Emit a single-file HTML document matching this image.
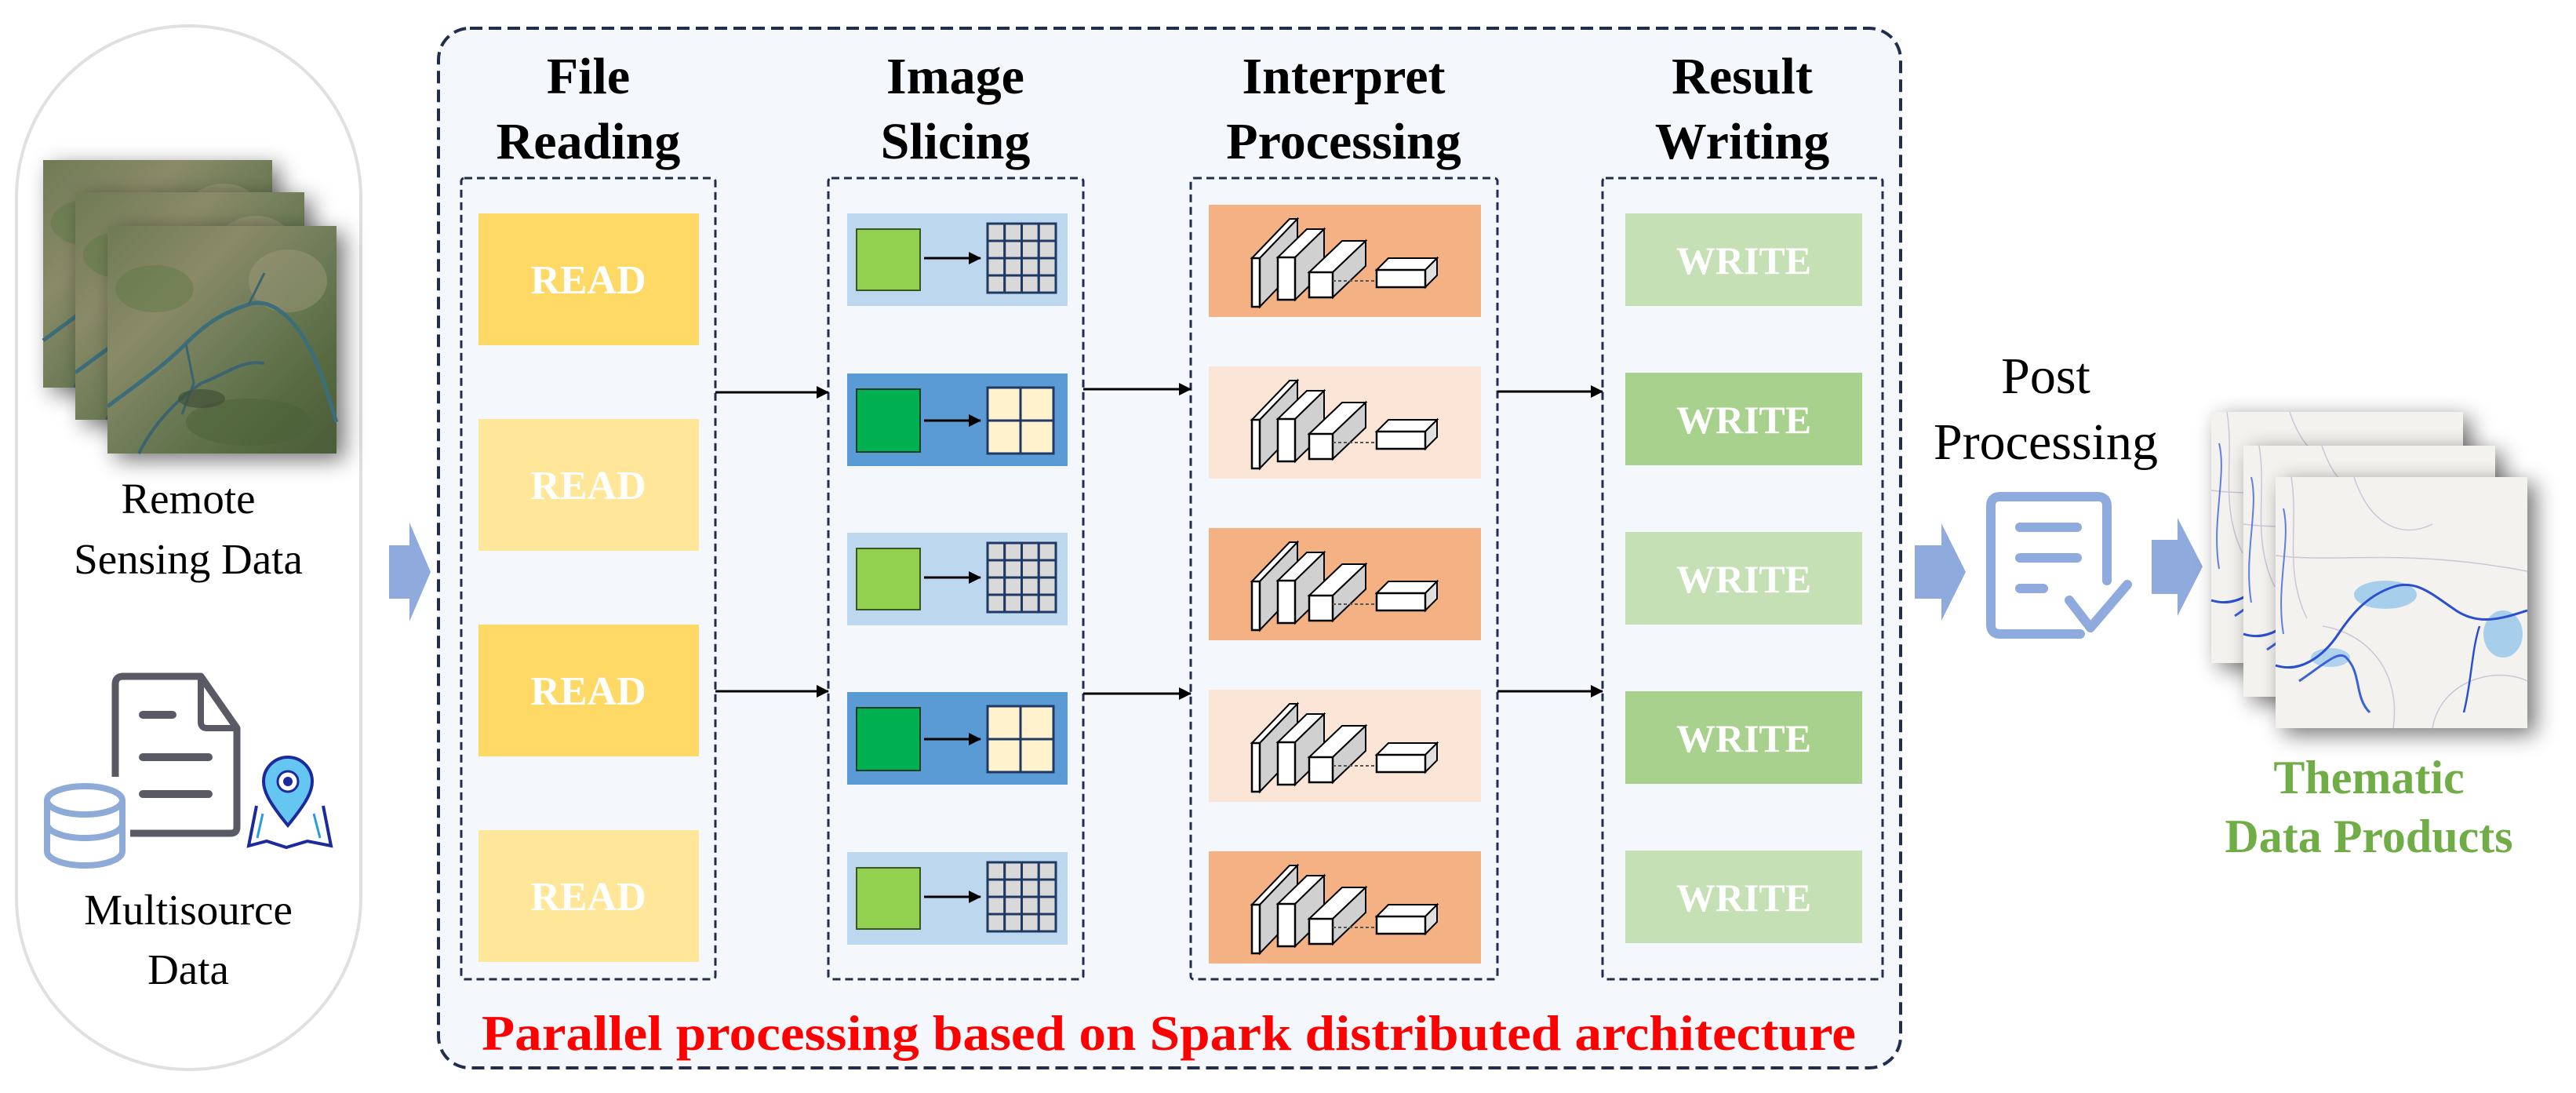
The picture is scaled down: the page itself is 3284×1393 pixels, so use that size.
<!DOCTYPE html>
<html><head><meta charset="utf-8"><style>
html,body{margin:0;padding:0;background:#fff;}
svg{display:block;}
svg text{font-family:"Liberation Serif","Times New Roman","DejaVu Serif",serif !important;}
</style></head><body>
<svg width="3284" height="1393" viewBox="0 0 3284 1393" xmlns="http://www.w3.org/2000/svg" font-family="'Liberation Serif', 'Times New Roman', serif">
<defs>
<filter id="sh" x="-30%" y="-30%" width="160%" height="160%"><feGaussianBlur in="SourceAlpha" stdDeviation="14"/><feOffset dx="10" dy="8"/><feComponentTransfer><feFuncA type="linear" slope="0.55"/></feComponentTransfer><feMerge><feMergeNode/><feMergeNode in="SourceGraphic"/></feMerge></filter>
<linearGradient id="sat" x1="0" y1="0" x2="1" y2="1">
<stop offset="0" stop-color="#6f7a55"/><stop offset="0.3" stop-color="#8a8a68"/><stop offset="0.55" stop-color="#6b7a55"/><stop offset="0.8" stop-color="#55683f"/><stop offset="1" stop-color="#4a5d38"/></linearGradient>
<g id="satimg">
<rect width="292" height="290" fill="url(#sat)"/>
<ellipse cx="230" cy="70" rx="50" ry="40" fill="#a29b7c" opacity="0.45"/>
<ellipse cx="60" cy="80" rx="50" ry="30" fill="#5f7a45" opacity="0.5"/>
<ellipse cx="180" cy="250" rx="80" ry="30" fill="#4c6138" opacity="0.5"/>
<path d="M0 230 C40 200 70 180 100 150 C130 120 150 110 180 100 C210 90 240 120 260 160 C275 190 285 230 292 250" fill="none" stroke="#3b6e78" stroke-width="5"/>
<path d="M40 290 C60 250 90 220 120 200 C150 190 170 170 200 175" fill="none" stroke="#3d6470" stroke-width="4"/>
<path d="M100 150 L110 200 L95 240 M180 100 L200 60" fill="none" stroke="#3d6470" stroke-width="3"/>
<ellipse cx="120" cy="220" rx="30" ry="12" fill="#3d4a33" opacity="0.6"/>
</g>
<g id="mapimg">
<rect width="321" height="320" fill="#f4f2ee"/>
<path d="M20 0 C30 60 10 120 40 180 M100 0 C120 60 160 80 200 60 M0 100 C80 110 160 90 321 120 M200 320 C210 260 280 240 321 260 M150 320 C160 250 120 200 60 190" fill="none" stroke="#cbc6d8" stroke-width="1.5"/>
<ellipse cx="140" cy="150" rx="40" ry="18" fill="#4aa3e8" opacity="0.45"/>
<ellipse cx="290" cy="200" rx="25" ry="30" fill="#4aa3e8" opacity="0.45"/>
<ellipse cx="70" cy="230" rx="25" ry="12" fill="#4aa3e8" opacity="0.4"/>
<path d="M0 240 C30 250 60 230 80 200 C100 170 120 150 150 140 C180 130 200 150 230 170 C260 190 290 180 321 170" fill="none" stroke="#2a4fd0" stroke-width="3"/>
<path d="M30 260 C60 240 80 220 90 230 C110 250 100 280 120 300" fill="none" stroke="#3a62d8" stroke-width="3"/>
<path d="M260 190 C250 220 250 260 240 300" fill="none" stroke="#2a4fd0" stroke-width="2.5"/>
<path d="M10 40 C20 80 0 140 10 200" fill="none" stroke="#5c7fe0" stroke-width="2"/>
</g>
<g id="cnn">
<polygon points="55,68 103,18 113,18 65,68" fill="#fff" stroke="#000" stroke-width="2"/>
<polygon points="65,68 113,18 113,80 65,130" fill="#d0d0d0" stroke="#000" stroke-width="2"/>
<rect x="55" y="68" width="10" height="62" fill="#fff" stroke="#000" stroke-width="2.5"/>
<polygon points="88,67 125,31 147,31 110,67" fill="#fff" stroke="#000" stroke-width="2"/>
<polygon points="110,67 147,31 147,85 110,121" fill="#d0d0d0" stroke="#000" stroke-width="2"/>
<rect x="88" y="67" width="22" height="54" fill="#fff" stroke="#000" stroke-width="2.5"/>
<polygon points="128,86 170,46 200,46 158,86" fill="#fff" stroke="#000" stroke-width="2"/>
<polygon points="158,86 200,46 200,78 158,118" fill="#d0d0d0" stroke="#000" stroke-width="2"/>
<rect x="128" y="86" width="30" height="32" fill="#fff" stroke="#000" stroke-width="2.5"/>
<line x1="158" y1="97" x2="214" y2="97" stroke="#555" stroke-width="2" stroke-dasharray="4 3"/>
<polygon points="214,83 229,68 291,68 276,83" fill="#fff" stroke="#000" stroke-width="2"/>
<polygon points="276,83 291,68 291,90 276,105" fill="#e0e0e0" stroke="#000" stroke-width="2"/>
<rect x="214" y="83" width="62" height="22" fill="#fff" stroke="#000" stroke-width="2.5"/>
</g>
<g id="grid16">
<g fill="#d9d9d9" stroke="#1f3864" stroke-width="3">
<rect x="179" y="13" width="21.75" height="22"/><rect x="200.75" y="13" width="21.75" height="22"/><rect x="222.5" y="13" width="21.75" height="22"/><rect x="244.25" y="13" width="21.75" height="22"/>
<rect x="179" y="35" width="21.75" height="22"/><rect x="200.75" y="35" width="21.75" height="22"/><rect x="222.5" y="35" width="21.75" height="22"/><rect x="244.25" y="35" width="21.75" height="22"/>
<rect x="179" y="57" width="21.75" height="22"/><rect x="200.75" y="57" width="21.75" height="22"/><rect x="222.5" y="57" width="21.75" height="22"/><rect x="244.25" y="57" width="21.75" height="22"/>
<rect x="179" y="79" width="21.75" height="22"/><rect x="200.75" y="79" width="21.75" height="22"/><rect x="222.5" y="79" width="21.75" height="22"/><rect x="244.25" y="79" width="21.75" height="22"/>
</g></g>
<g id="grid4">
<g fill="#fff2cc" stroke="#1f3864" stroke-width="3">
<rect x="179" y="18" width="42" height="42"/><rect x="221" y="18" width="42" height="42"/>
<rect x="179" y="60" width="42" height="42"/><rect x="221" y="60" width="42" height="42"/>
</g></g>
<marker id="ah2" markerWidth="16" markerHeight="16" refX="15" refY="8" orient="auto" markerUnits="userSpaceOnUse"><path d="M0,0 L16,8 L0,16 z" fill="#000"/></marker>
</defs>

<!-- left pill -->
<rect x="21" y="33" width="439" height="1330" rx="219" ry="219" fill="#fff" stroke="#e0e0e0" stroke-width="4"/>
<g filter="url(#sh)"><use href="#satimg" x="55" y="204"/></g>
<g filter="url(#sh)"><use href="#satimg" x="96" y="245"/></g>
<g filter="url(#sh)"><use href="#satimg" x="137" y="288"/></g>
<text x="240" y="654" font-size="55" text-anchor="middle" fill="#000">Remote</text>
<text x="240" y="731" font-size="55" text-anchor="middle" fill="#000">Sensing Data</text>
<!-- multisource icon -->
<path d="M147 990 V872 Q147 862 157 862 H256 L302 928 V1054 Q302 1062 294 1062 H166" fill="none" stroke="#5a5a64" stroke-width="9" stroke-linejoin="round"/>
<path d="M256 862 V920 Q256 928 264 928 H302" fill="none" stroke="#5a5a64" stroke-width="8"/>
<line x1="182" y1="911" x2="220" y2="911" stroke="#5a5a64" stroke-width="10" stroke-linecap="round"/>
<line x1="182" y1="965" x2="266" y2="965" stroke="#5a5a64" stroke-width="10" stroke-linecap="round"/>
<line x1="182" y1="1012" x2="266" y2="1012" stroke="#5a5a64" stroke-width="10" stroke-linecap="round"/>
<g fill="#fff" stroke="#8eaad6" stroke-width="8">
<path d="M60 1020 V1085 A48 18 0 0 0 156 1085 V1020"/>
<ellipse cx="108" cy="1020" rx="48" ry="18"/>
<path d="M60 1050 A48 18 0 0 0 156 1050"/>
</g>
<g>
<path d="M327 1027 L317 1078 L340 1072 L365 1080 L392 1072 L422 1078 L412 1027" fill="none" stroke="#1c2a9c" stroke-width="4"/>
<path d="M335 1037 L328 1068 M400 1037 L408 1068" stroke="#2a9be0" stroke-width="3"/>
<path d="M367 1052 C345 1025 336 1010 336 996 A31 31 0 0 1 398 996 C398 1010 389 1025 367 1052 z" fill="#66c6f2" stroke="#1c2a9c" stroke-width="4"/>
<circle cx="367" cy="996" r="13" fill="#fff" stroke="#1c2a9c" stroke-width="3"/>
<circle cx="367" cy="996" r="6" fill="#1c2a9c"/>
</g>
<text x="240" y="1178" font-size="55" text-anchor="middle" fill="#000">Multisource</text>
<text x="240" y="1254" font-size="55" text-anchor="middle" fill="#000">Data</text>

<polygon points="496,695 522,695 522,666 549,729 522,792 522,763 496,763" fill="#8faadc"/>

<!-- main box -->
<rect x="559" y="36" width="1864" height="1325" rx="40" ry="40" fill="#f4f7fb" stroke="#1f2d4e" stroke-width="4" stroke-dasharray="16 8"/>

<g font-weight="bold" font-size="66" text-anchor="middle" fill="#000">
<text x="750" y="119">File</text><text x="750" y="202">Reading</text>
<text x="1218" y="119">Image</text><text x="1218" y="202">Slicing</text>
<text x="1713" y="119">Interpret</text><text x="1713" y="202">Processing</text>
<text x="2221" y="119">Result</text><text x="2221" y="202">Writing</text>
</g>

<g fill="none" stroke="#1f2d4e" stroke-width="3" stroke-dasharray="10 6">
<rect x="588" y="227" width="324" height="1021" rx="4"/>
<rect x="1056" y="227" width="325" height="1021" rx="4"/>
<rect x="1518" y="227" width="391" height="1021" rx="4"/>
<rect x="2043" y="227" width="357" height="1021" rx="4"/>
</g>

<rect x="610" y="272" width="281" height="168" fill="#ffd966"/>
<rect x="610" y="534" width="281" height="168" fill="#ffe699"/>
<rect x="610" y="796" width="281" height="168" fill="#ffd966"/>
<rect x="610" y="1058" width="281" height="168" fill="#ffe699"/>
<g font-weight="bold" font-size="52" text-anchor="middle" fill="#fff">
<text x="750" y="374">READ</text><text x="750" y="636">READ</text><text x="750" y="898">READ</text><text x="750" y="1160">READ</text>
</g>

<g transform="translate(1080,272)"><rect width="281" height="118" fill="#bdd7ee"/><rect x="12" y="20" width="81" height="78" fill="#92d050" stroke="#385723" stroke-width="2"/><line x1="98" y1="57" x2="170" y2="57" stroke="#000" stroke-width="3" marker-end="url(#ah2)"/><use href="#grid16"/></g>
<g transform="translate(1080,476)"><rect width="281" height="118" fill="#5b9bd5"/><rect x="12" y="20" width="81" height="80" fill="#00b050" stroke="#1f3d23" stroke-width="2"/><line x1="98" y1="60" x2="170" y2="60" stroke="#000" stroke-width="3" marker-end="url(#ah2)"/><use href="#grid4"/></g>
<g transform="translate(1080,679)"><rect width="281" height="118" fill="#bdd7ee"/><rect x="12" y="20" width="81" height="78" fill="#92d050" stroke="#385723" stroke-width="2"/><line x1="98" y1="57" x2="170" y2="57" stroke="#000" stroke-width="3" marker-end="url(#ah2)"/><use href="#grid16"/></g>
<g transform="translate(1080,882)"><rect width="281" height="118" fill="#5b9bd5"/><rect x="12" y="20" width="81" height="80" fill="#00b050" stroke="#1f3d23" stroke-width="2"/><line x1="98" y1="60" x2="170" y2="60" stroke="#000" stroke-width="3" marker-end="url(#ah2)"/><use href="#grid4"/></g>
<g transform="translate(1080,1086)"><rect width="281" height="118" fill="#bdd7ee"/><rect x="12" y="20" width="81" height="78" fill="#92d050" stroke="#385723" stroke-width="2"/><line x1="98" y1="57" x2="170" y2="57" stroke="#000" stroke-width="3" marker-end="url(#ah2)"/><use href="#grid16"/></g>

<g transform="translate(1541,261)"><rect width="347" height="143" fill="#f4b183"/><use href="#cnn"/></g>
<g transform="translate(1541,467)"><rect width="347" height="143" fill="#fbe5d6"/><use href="#cnn"/></g>
<g transform="translate(1541,673)"><rect width="347" height="143" fill="#f4b183"/><use href="#cnn"/></g>
<g transform="translate(1541,879)"><rect width="347" height="143" fill="#fbe5d6"/><use href="#cnn"/></g>
<g transform="translate(1541,1085)"><rect width="347" height="143" fill="#f4b183"/><use href="#cnn"/></g>

<rect x="2072" y="272" width="302" height="118" fill="#c5e0b4"/>
<rect x="2072" y="475" width="302" height="118" fill="#a9d18e"/>
<rect x="2072" y="678" width="302" height="118" fill="#c5e0b4"/>
<rect x="2072" y="881" width="302" height="118" fill="#a9d18e"/>
<rect x="2072" y="1084" width="302" height="118" fill="#c5e0b4"/>
<g font-weight="bold" font-size="50" text-anchor="middle" fill="#fff">
<text x="2223" y="349">WRITE</text><text x="2223" y="552">WRITE</text><text x="2223" y="755">WRITE</text><text x="2223" y="958">WRITE</text><text x="2223" y="1161">WRITE</text>
</g>

<g stroke="#000" stroke-width="3">
<line x1="912" y1="500" x2="1056" y2="500" marker-end="url(#ah2)"/>
<line x1="912" y1="881" x2="1056" y2="881" marker-end="url(#ah2)"/>
<line x1="1381" y1="496" x2="1518" y2="496" marker-end="url(#ah2)"/>
<line x1="1381" y1="884" x2="1518" y2="884" marker-end="url(#ah2)"/>
<line x1="1909" y1="499" x2="2043" y2="499" marker-end="url(#ah2)"/>
<line x1="1909" y1="881" x2="2043" y2="881" marker-end="url(#ah2)"/>
</g>

<text x="1490" y="1338" font-size="64" font-weight="bold" fill="#ff0000" text-anchor="middle" textLength="1752" lengthAdjust="spacingAndGlyphs">Parallel processing based on Spark distributed architecture</text>

<text x="2608" y="501" font-size="66" text-anchor="middle" fill="#000">Post</text>
<text x="2608" y="585" font-size="66" text-anchor="middle" fill="#000">Processing</text>
<polygon points="2441,695 2475,695 2475,667 2506,729 2475,791 2475,763 2441,763" fill="#8faadc"/>
<g fill="none" stroke="#8faadc" stroke-width="12" stroke-linecap="round" stroke-linejoin="round">
<path d="M2652 808 H2550 Q2538 808 2538 796 V645 Q2538 633 2550 633 H2674 Q2686 633 2686 645 V740"/>
<line x1="2575" y1="672" x2="2648" y2="672"/>
<line x1="2575" y1="711" x2="2648" y2="711"/>
<line x1="2575" y1="750" x2="2605" y2="750"/>
<polyline points="2638,765 2665,800 2712,745"/>
</g>
<polygon points="2743,688 2776,688 2776,660 2808,722 2776,785 2776,757 2743,757" fill="#8faadc"/>

<g filter="url(#sh)"><use href="#mapimg" x="2819" y="525"/></g>
<g filter="url(#sh)"><use href="#mapimg" x="2860" y="568"/></g>
<g filter="url(#sh)"><use href="#mapimg" x="2901" y="608"/></g>
<text x="3020" y="1011" font-size="60" font-weight="bold" text-anchor="middle" fill="#70ad47">Thematic</text>
<text x="3020" y="1086" font-size="60" font-weight="bold" text-anchor="middle" fill="#70ad47">Data Products</text>
</svg>
</body></html>
